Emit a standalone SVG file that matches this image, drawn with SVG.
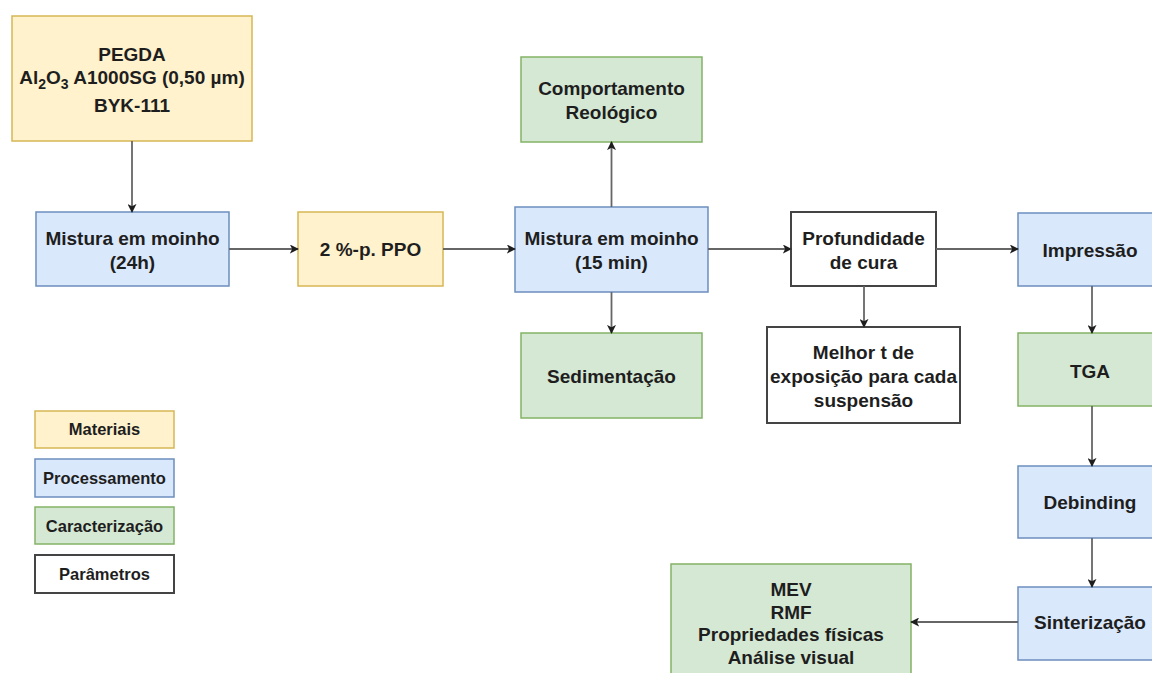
<svg xmlns="http://www.w3.org/2000/svg" width="1152" height="673" viewBox="0 0 1152 673">
<defs>
<marker id="arr" viewBox="0 0 10 10" refX="9" refY="5" markerWidth="9" markerHeight="9" markerUnits="userSpaceOnUse" orient="auto">
<path d="M0,0 L10,5 L0,10 L2.5,5 Z" fill="#1e1e1e"/>
</marker>
<style>
.mat{fill:#fff2cc;stroke:#d6b656;stroke-width:1.5}
.pro{fill:#dae8fc;stroke:#6c8ebf;stroke-width:1.5}
.car{fill:#d5e8d4;stroke:#82b366;stroke-width:1.5}
.par{fill:#ffffff;stroke:#444;stroke-width:2}
text{font-family:"Liberation Sans",Arial,sans-serif;font-weight:bold;font-size:19px;fill:#1e1e1e;text-anchor:middle}
.lg{font-size:16.5px}
.c{fill:none;stroke:#666;stroke-width:1.8;marker-end:url(#arr)}
</style>
</defs>
<rect width="1152" height="673" fill="#ffffff"/>

<g id="n-materiais">
<rect class="mat" x="12" y="16" width="240" height="125"/>
<text x="132" y="61">PEGDA</text>
<text x="132" y="84">Al<tspan font-size="14" dy="5">2</tspan><tspan dy="-5">O</tspan><tspan font-size="14" dy="5">3</tspan><tspan dy="-5"> A1000SG (0,50 µm)</tspan></text>
<text x="132" y="112">BYK-111</text>
</g>

<g id="n-mistura24">
<rect class="pro" x="36" y="212" width="193" height="74"/>
<text x="132.5" y="245">Mistura em moinho</text>
<text x="132.5" y="269">(24h)</text>
</g>

<g id="n-ppo">
<rect class="mat" x="298" y="212" width="145" height="74"/>
<text x="370.5" y="256">2 %-p. PPO</text>
</g>

<g id="n-mistura15">
<rect class="pro" x="515" y="207" width="193" height="85"/>
<text x="611.5" y="245">Mistura em moinho</text>
<text x="611.5" y="269">(15 min)</text>
</g>

<g id="n-reologico">
<rect class="car" x="521" y="57" width="181" height="85"/>
<text x="611.5" y="95">Comportamento</text>
<text x="611.5" y="119">Reológico</text>
</g>

<g id="n-sedimentacao">
<rect class="car" x="521" y="333" width="181" height="85"/>
<text x="611.5" y="383">Sedimentação</text>
</g>

<g id="n-profundidade">
<rect class="par" x="791" y="212" width="145" height="74"/>
<text x="863.5" y="245">Profundidade</text>
<text x="863.5" y="269">de cura</text>
</g>

<g id="n-melhor">
<rect class="par" x="767" y="327" width="193" height="96"/>
<text x="863.5" y="359">Melhor t de</text>
<text x="863.5" y="383">exposição para cada</text>
<text x="863.5" y="407">suspensão</text>
</g>

<g id="n-impressao">
<rect class="pro" x="1018" y="213" width="146" height="73"/>
<text x="1090" y="257">Impressão</text>
</g>

<g id="n-tga">
<rect class="car" x="1018" y="333" width="146" height="73"/>
<text x="1090" y="378">TGA</text>
</g>

<g id="n-debinding">
<rect class="pro" x="1018" y="466" width="146" height="72"/>
<text x="1090" y="509">Debinding</text>
</g>

<g id="n-sinterizacao">
<rect class="pro" x="1018" y="587" width="146" height="73"/>
<text x="1090" y="629">Sinterização</text>
</g>

<g id="n-mev">
<rect class="car" x="671" y="564" width="240" height="125"/>
<text x="791" y="596">MEV</text>
<text x="791" y="619">RMF</text>
<text x="791" y="641">Propriedades físicas</text>
<text x="791" y="664">Análise visual</text>
</g>

<g id="legend">
<g id="lg-materiais"><rect class="mat" x="35" y="411" width="139" height="37"/><text class="lg" x="104.5" y="435">Materiais</text></g>
<g id="lg-processamento"><rect class="pro" x="35" y="459" width="139" height="38"/><text class="lg" x="104.5" y="484">Processamento</text></g>
<g id="lg-caracterizacao"><rect class="car" x="35" y="507" width="139" height="37"/><text class="lg" x="104.5" y="532">Caracterização</text></g>
<g id="lg-parametros"><rect class="par" x="35" y="555" width="139" height="38"/><text class="lg" x="104.5" y="580">Parâmetros</text></g>
</g>

<g id="connectors">
<path class="c" d="M132,141 L132,212"/>
<path class="c" d="M229,249 L298,249"/>
<path class="c" d="M443,249 L515,249"/>
<path class="c" d="M611.5,207 L611.5,142"/>
<path class="c" d="M611.5,292 L611.5,333"/>
<path class="c" d="M708,249 L791,249"/>
<path class="c" d="M936,249 L1018,249"/>
<path class="c" d="M864,286 L864,327"/>
<path class="c" d="M1092,286 L1092,333"/>
<path class="c" d="M1092,406 L1092,466"/>
<path class="c" d="M1092,538 L1092,587"/>
<path class="c" d="M1018,622 L911,622"/>
</g>
</svg>
